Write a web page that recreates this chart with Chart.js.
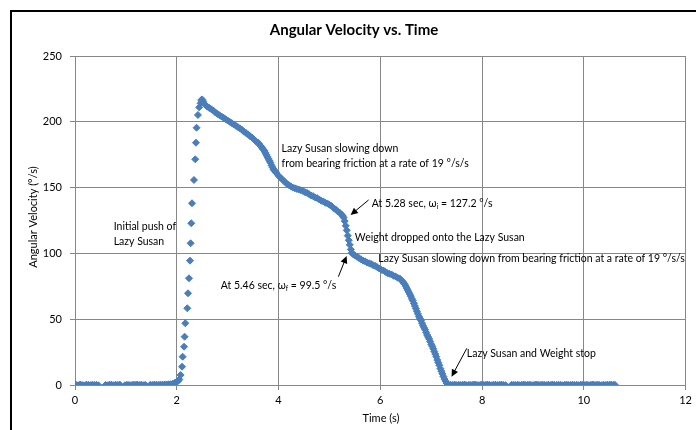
<!DOCTYPE html>
<html>
<head>
<meta charset="utf-8">
<script src="https://cdn.jsdelivr.net/npm/chart.js@4/dist/chart.umd.min.js"></script>
<style>
  html, body { margin:0; padding:0; background:#fff; }
  #wrap { width:696px; height:430px; position:relative; }
</style>
</head>
<body>
<div id="wrap"><canvas id="chart" width="696" height="430"></canvas></div>
<script>
// ─── Data ────────────────────────────────────────────────────────────────────

// at rest before the push
const restTime  = [0.02,0.06,0.10,0.14,0.18,0.22,0.26,0.30,0.34,0.38,0.42,0.46,0.60,0.64,0.68,0.72,0.76,0.80,0.84,0.88,0.98,1.02,1.06,1.10,1.14,1.18,1.22,1.26,1.30,1.34,1.38,1.48,1.52,1.56,1.60,1.64,1.68,1.72,1.76,1.80,1.84];
const restOmega = [0.1,-0.2,0.3,0,-0.3,0.2,0.1,-0.1,0.2,0,0.1,-0.2,0,-0.2,0.3,0.1,-0.1,0.2,0,0.3,-0.2,0.1,0,-0.1,0.2,0.1,0.3,0,0.2,-0.1,0.1,0.2,0,0.3,0.1,0.2,0.3,0.1,0.4,0.4,0.5];

// initial push
const pushTime  = [1.88,1.92,1.96,2.00,2.03,2.05,2.076,2.104,2.115,2.143,2.154,2.168,2.207,2.221,2.240,2.260,2.272,2.285,2.299,2.338,2.363,2.377,2.389,2.416,2.44,2.467,2.48,2.50];
const pushOmega = [0.6,0.9,1.6,2.4,3.2,4.2,7.6,13.9,21.5,29.1,36.7,46.9,58.3,69.7,81.1,94.5,107.7,122.9,138.1,155.8,171.5,184.1,195.5,205.2,211,214.1,216.5,217];

// slowing down from bearing friction
const slow1Time  = [2.52,2.56,2.60,2.64,2.68,2.72,2.76,2.80,2.84,2.88,2.92,2.96,3.00,3.04,3.08,3.12,3.16,3.20,3.24,3.28,3.32,3.36,3.40,3.44,3.48,3.52,3.56,3.60,3.62,3.64,3.66,3.68,3.70,3.72,3.74,3.76,3.78,3.80,3.82,3.84,3.86,3.88,3.90,3.92,3.94,3.96,4.00,4.04,4.08,4.12,4.16,4.20,4.24,4.28,4.32,4.36,4.40,4.44,4.48,4.52,4.56,4.60,4.64,4.68,4.72,4.76,4.80,4.84,4.88,4.92,4.96,5.00,5.04,5.08,5.12,5.16,5.20,5.24,5.26,5.28];
const slow1Omega = [215.5,213,211.5,210.5,209.5,208.5,207,206,205,204,203,202,201,200,199,198,197,196,195,194,192.5,191.5,190.5,189,188,186.5,185,184,183,182,181,180,179,178,176.5,175,173.5,172,170.5,169,167,165.5,164,163,162,161,159,157.5,156,154.5,153,152,151,150,149.5,149,148.5,148,147.5,146.5,146,145,144,143.5,142.5,142,141,140,139.5,138.5,138,137,136,134.5,133.5,132,131,129.5,128.5,127.2];

// weight dropped on
const dropTime  = [5.30,5.32,5.34,5.36,5.38,5.40,5.42,5.44,5.46];
const dropOmega = [124.5,121,117.5,113.5,110,106.5,103,100.5,99.5];

// slowing down again, then stopping
const slow2Time  = [5.50,5.54,5.58,5.62,5.66,5.70,5.74,5.78,5.82,5.86,5.90,5.94,5.98,6.02,6.06,6.10,6.14,6.18,6.22,6.26,6.30,6.34,6.38,6.42,6.44,6.46,6.48,6.50,6.52,6.54,6.56,6.58,6.60,6.62,6.64,6.66,6.68,6.70,6.72,6.74,6.76,6.78,6.80,6.82,6.84,6.86,6.88,6.90,6.92,6.94,6.96,6.98,7.00,7.02,7.04,7.06,7.08,7.10,7.12,7.14,7.16,7.18,7.20,7.22,7.24,7.26,7.28,7.30,7.32,7.34];
const slow2Omega = [98.5,97.5,96.5,95.5,94.5,94,93,92.5,92,91,90.5,89.5,88.5,87.5,87,86,85,84.5,84,83,82.5,81.5,81,79.5,78.5,77.5,76.5,75,73.5,72,70.5,69,67.5,65.5,64,62,60,58,56,54,52,50.5,49,47,45,43.5,42,40,38,36.5,35,33,31,29.5,27.5,25.5,23.5,21.5,19,17,15,12.5,10.5,8.5,6.5,4.5,3,1.5,0.8,0.3];

// stopped
const stopTime  = [7.38,7.42,7.46,7.50,7.54,7.58,7.62,7.66,7.70,7.74,7.78,7.82,7.86,7.90,7.94,7.98,8.02,8.06,8.10,8.14,8.18,8.22,8.26,8.30,8.34,8.38,8.42,8.46,8.58,8.62,8.66,8.70,8.74,8.78,8.82,8.86,8.90,8.94,8.98,9.02,9.06,9.10,9.14,9.18,9.22,9.26,9.30,9.34,9.38,9.42,9.46,9.50,9.54,9.58,9.62,9.66,9.70,9.74,9.78,9.82,9.86,9.90,9.94,9.98,10.02,10.06,10.10,10.14,10.18,10.22,10.26,10.30,10.34,10.38,10.42,10.46,10.50,10.54,10.58,10.61];
const stopOmega = [0.2,0,0.3,-0.1,0.2,0,0.1,0.3,-0.2,0.1,0,0.2,0.3,0,-0.1,0.2,0.1,0,0.3,0.1,-0.2,0.1,0.2,0,0.1,0.3,0,-0.1,0.2,0.1,0,0.2,-0.2,0.1,0.3,0,0.1,0.2,-0.1,0,0.3,0.1,0,0.2,0.1,-0.1,0.2,0,0.3,0.1,0,0.2,0.1,-0.2,0.1,0.3,0,0.1,0.2,0,0.1,-0.1,0.2,0.1,0,0.2,-0.1,0.1,0.3,0,0.2,0.1,-0.2,0.1,0,0.2,0.1,0.3,0,0.1];

const xTicks = [0, 2, 4, 6, 8, 10, 12];
const yTicks = [0, 50, 100, 150, 200, 250];

// ─── Chart ───────────────────────────────────────────────────────────────────

const FONT   = "Lato, 'Open Sans', sans-serif";
const BLUE   = '#4A7EBB';
const GRID   = '#878787';

const phases = [
  [restTime, restOmega], [pushTime, pushOmega], [slow1Time, slow1Omega],
  [dropTime, dropOmega], [slow2Time, slow2Omega], [stopTime, stopOmega]
];
const points = [];
phases.forEach(([ts, ws]) => ts.forEach((t, i) => points.push({ x: t, y: ws[i] })));

// annotation text, positioned in data units (left edge, vertical centre)
const notes = [
  { t: 4.06, w: 179.9, parts: [['Lazy Susan slowing down']] },
  { t: 4.06, w: 168.5, parts: [['from bearing friction at a rate of 19 °/s/s']] },
  { t: 5.83, w: 138.1, parts: [['At 5.28 sec, ω'], ['i', 'sub'], [' = 127.2 °/s']] },
  { t: 5.50, w: 111.9, parts: [['Weight dropped onto the Lazy Susan']] },
  { t: 5.96, w: 96.3,  parts: [['Lazy Susan slowing down from bearing friction at a rate of 19 °/s/s']] },
  { t: 2.865, w: 75.5, parts: [['At 5.46 sec, ω'], ['f', 'sub'], [' = 99.5 °/s']] },
  { t: 0.76, w: 120.3, parts: [['Initial push of']] },
  { t: 0.76, w: 108.7, parts: [['Lazy Susan']] },
  { t: 7.70, w: 24.1,  parts: [['Lazy Susan and Weight stop']] },
];
// arrows: [tailT, tailW, headT, headW]
const arrows = [
  [5.77, 140.6, 5.416, 129.2],
  [5.176, 82.3, 5.338, 98.0],
  [7.70, 27.9, 7.40, 6.3],
];

const decor = {
  id: 'decor',
  afterDatasetsDraw(chart) {
    const { ctx, scales: { x, y } } = chart;
    ctx.save();
    ctx.fillStyle = '#000';
    ctx.textBaseline = 'middle';
    ctx.textAlign = 'left';
    notes.forEach(n => {
      let px = x.getPixelForValue(n.t);
      const py = y.getPixelForValue(n.w);
      n.parts.forEach(([s, kind]) => {
        ctx.font = kind === 'sub' ? `7px ${FONT}` : `10.5px ${FONT}`;
        ctx.fillText(s, px, kind === 'sub' ? py + 3 : py);
        px += ctx.measureText(s).width;
      });
    });
    ctx.strokeStyle = '#000';
    ctx.lineWidth = 1;
    arrows.forEach(([t0, w0, t1, w1]) => {
      const x0 = x.getPixelForValue(t0), y0 = y.getPixelForValue(w0);
      const x1 = x.getPixelForValue(t1), y1 = y.getPixelForValue(w1);
      const a = Math.atan2(y1 - y0, x1 - x0), L = 8, W = 0.45;
      ctx.beginPath(); ctx.moveTo(x0, y0);
      ctx.lineTo(x1 - Math.cos(a) * L * 0.8, y1 - Math.sin(a) * L * 0.8); ctx.stroke();
      ctx.beginPath();
      ctx.moveTo(x1, y1);
      ctx.lineTo(x1 - L * Math.cos(a - W), y1 - L * Math.sin(a - W));
      ctx.lineTo(x1 - L * Math.cos(a + W), y1 - L * Math.sin(a + W));
      ctx.closePath(); ctx.fill();
    });
    ctx.restore();
  },
  afterDraw(chart) {
    const { ctx } = chart;
    ctx.save();
    // outer frame (only top and left edges fall inside the picture)
    ctx.strokeStyle = '#000';
    ctx.lineWidth = 2;
    ctx.beginPath();
    ctx.moveTo(11, 440); ctx.lineTo(11, 11); ctx.lineTo(700, 11);
    ctx.stroke();
    ctx.fillStyle = '#000';
    ctx.textAlign = 'center';
    ctx.textBaseline = 'middle';
    ctx.font = `bold 15px ${FONT}`;
    ctx.fillText('Angular Velocity vs. Time', 354, 30);
    ctx.font = `11px ${FONT}`;
    ctx.fillText('Time (s)', 381, 418);
    ctx.translate(33, 217);
    ctx.rotate(-Math.PI / 2);
    ctx.fillText('Angular Velocity (°/s)', 0, 0);
    ctx.restore();
  }
};

new Chart(document.getElementById('chart'), {
  type: 'scatter',
  data: {
    datasets: [{
      label: 'Angular Velocity',
      data: points,
      pointStyle: 'rectRot',
      pointRadius: 3.5,
      borderWidth: 1,
      backgroundColor: BLUE,
      borderColor: BLUE,
      showLine: false,
    }]
  },
  options: {
    responsive: false,
    animation: false,
    devicePixelRatio: 1,
    layout: { padding: { left: 0, right: 7, top: 56, bottom: 0 } },
    plugins: { legend: { display: false }, tooltip: { enabled: false }, title: { display: false } },
    scales: {
      x: {
        type: 'linear', min: 0, max: 12,
        afterBuildTicks: s => { s.ticks = xTicks.map(v => ({ value: v })); },
        afterFit: s => { s.height = 45; },
        grid: { color: GRID, tickColor: GRID, tickLength: 5, drawTicks: true },
        border: { color: GRID },
        ticks: { color: '#000', font: { family: FONT, size: 11 }, padding: 4, maxRotation: 0 }
      },
      y: {
        type: 'linear', min: 0, max: 250,
        afterBuildTicks: s => { s.ticks = yTicks.map(v => ({ value: v })); },
        afterFit: s => { s.width = 75; },
        grid: { color: GRID, tickColor: GRID, tickLength: 5, drawTicks: true },
        border: { color: GRID },
        ticks: { color: '#000', font: { family: FONT, size: 11 }, padding: 8 }
      }
    }
  },
  plugins: [decor]
});
</script>
</body>
</html>
